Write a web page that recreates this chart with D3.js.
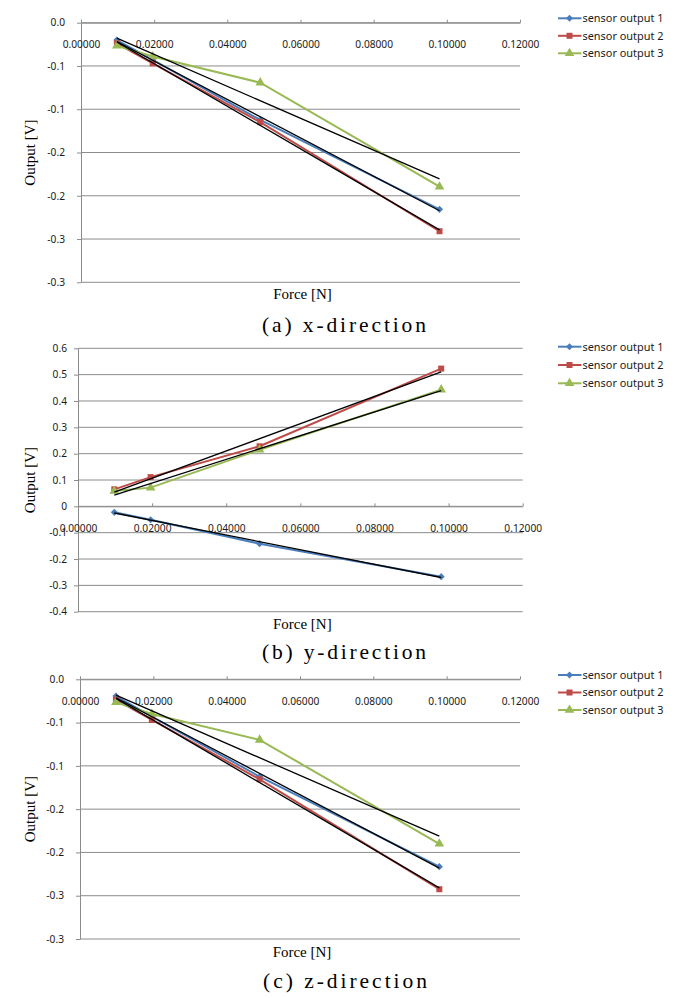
<!DOCTYPE html>
<html>
<head>
<meta charset="utf-8">
<script src="https://cdn.jsdelivr.net/npm/d3@7"></script>
<style>
  html, body { margin: 0; padding: 0; background: #fff; }
  svg { display: block; }
</style>
</head>
<body>
<svg id="chart" width="684" height="998"></svg>
<script>
// ---------------- DATA ----------------
const forceN = [0.0098, 0.0196, 0.049, 0.098];
const seriesNames = ["sensor output 1", "sensor output 2", "sensor output 3"];

// (a) x-direction
const xDirOut1 = [-0.020, -0.043, -0.1124, -0.2157];
const xDirOut2 = [-0.0238, -0.047, -0.115, -0.241];
const xDirOut3 = [-0.0266, -0.039, -0.0693, -0.1895];

// (b) y-direction
const yDirOut1 = [-0.0228, -0.0506, -0.1417, -0.267];
const yDirOut2 = [0.0646, 0.111, 0.228, 0.523];
const yDirOut3 = [0.058, 0.071, 0.215, 0.443];

// (c) z-direction
const zDirOut1 = [-0.0193, -0.043, -0.1125, -0.2164];
const zDirOut2 = [-0.0235, -0.047, -0.1155, -0.2425];
const zDirOut3 = [-0.0265, -0.040, -0.070, -0.190];

const xTickValues = [0, 0.02, 0.04, 0.06, 0.08, 0.10, 0.12];
const xTickLabels = ["0.00000", "0.02000", "0.04000", "0.06000", "0.08000", "0.10000", "0.12000"];

const negTickValues = [0, -0.05, -0.10, -0.15, -0.20, -0.25, -0.30];
const negTickLabels = ["0.0", "-0.1", "-0.1", "-0.2", "-0.2", "-0.3", "-0.3"];

const yDirTickValues = [0.6, 0.5, 0.4, 0.3, 0.2, 0.1, 0, -0.1, -0.2, -0.3, -0.4];
const yDirTickLabels = ["0.6", "0.5", "0.4", "0.3", "0.2", "0.1", "0", "-0.1", "-0.2", "-0.3", "-0.4"];

const captions = ["(a) x-direction", "(b) y-direction", "(c) z-direction"];
const xTitle = "Force [N]";
const yTitle = "Output [V]";

// ---------------- STYLE / LAYOUT ----------------
const colors = ["#4a7ebb", "#be4b48", "#98b954"];
const markerTypes = [d3.symbolDiamond2, d3.symbolSquare, d3.symbolTriangle];
const markerSizes = [32, 36, 40];
const gridColor = "#8c8c8c";

const panels = [
  { series: [xDirOut1, xDirOut2, xDirOut3], yTicks: negTickValues, yLabels: negTickLabels,
    left: 81, right: 520, top: 22.7, bottom: 282.3, yPad: 12,
    legendY: 18.3, legendStep: 17.5, forceY: 294, captionX: 344, captionY: 324 },
  { series: [yDirOut1, yDirOut2, yDirOut3], yTicks: yDirTickValues, yLabels: yDirTickLabels,
    left: 78, right: 522.7, top: 348.3, bottom: 611.7, yPad: 7,
    legendY: 346.7, legendStep: 18.3, forceY: 623.3, captionX: 344, captionY: 651.5 },
  { series: [zDirOut1, zDirOut2, zDirOut3], yTicks: negTickValues, yLabels: negTickLabels,
    left: 80, right: 520, top: 679.3, bottom: 939, yPad: 12,
    legendY: 675, legendStep: 17.5, forceY: 951.7, captionX: 345, captionY: 980 }
];

const svg = d3.select("#chart");
svg.append("rect").attr("width", 684).attr("height", 998).attr("fill", "#fff");

function linReg(xs, ys) {
  const mx = d3.mean(xs), my = d3.mean(ys);
  let sxy = 0, sxx = 0;
  xs.forEach((x, i) => { sxy += (x - mx) * (ys[i] - my); sxx += (x - mx) * (x - mx); });
  const slope = sxy / sxx;
  return { slope, intercept: my - slope * mx };
}

panels.forEach((p, pi) => {
  const g = svg.append("g");
  const x = d3.scaleLinear().domain([0, 0.12]).range([p.left, p.right]);
  const y = d3.scaleLinear().domain(d3.extent(p.yTicks)).range([p.bottom, p.top]);

  // gridlines
  g.append("g").selectAll("line").data(p.yTicks).join("line")
    .attr("x1", p.left).attr("x2", p.right)
    .attr("y1", d => y(d)).attr("y2", d => y(d))
    .attr("stroke", gridColor).attr("stroke-width", 1);

  // vertical axis
  const yAxis = d3.axisLeft(y).tickValues(p.yTicks)
    .tickFormat((d, i) => p.yLabels[i]).tickSize(4).tickPadding(p.yPad).tickSizeOuter(0);
  const ya = g.append("g").attr("transform", `translate(${p.left},0)`).call(yAxis);
  ya.select(".domain").attr("stroke", gridColor);
  ya.selectAll(".tick line").attr("stroke", gridColor);
  ya.selectAll("text").attr("font-family", "'Noto Sans', sans-serif").attr("font-size", 10.2)
    .attr("fill", "#1a1a1a");

  // horizontal axis at y = 0
  const xAxis = d3.axisBottom(x).tickValues(xTickValues)
    .tickFormat((d, i) => xTickLabels[i]).tickSizeInner(-3).tickSizeOuter(0).tickPadding(18);
  const xa = g.append("g").attr("transform", `translate(0,${y(0)})`).call(xAxis);
  xa.select(".domain").attr("stroke", gridColor);
  xa.selectAll(".tick line").attr("stroke", gridColor);
  xa.selectAll("text").attr("font-family", "'Noto Sans', sans-serif").attr("font-size", 10.2)
    .attr("fill", "#1a1a1a");

  // series
  const line = d3.line().x((d, i) => x(forceN[i])).y(d => y(d));
  p.series.forEach((vals, si) => {
    g.append("path").datum(vals).attr("d", line)
      .attr("fill", "none").attr("stroke", colors[si]).attr("stroke-width", 2);
    g.append("g").selectAll("path").data(vals).join("path")
      .attr("d", d3.symbol().type(markerTypes[si]).size(markerSizes[si]))
      .attr("transform", (d, i) => `translate(${x(forceN[i])},${y(d)})`)
      .attr("fill", colors[si]);
  });

  // linear trendlines
  p.series.forEach(vals => {
    const r = linReg(forceN, vals);
    const x0 = forceN[0], x1 = forceN[forceN.length - 1];
    g.append("line")
      .attr("x1", x(x0)).attr("y1", y(r.intercept + r.slope * x0))
      .attr("x2", x(x1)).attr("y2", y(r.intercept + r.slope * x1))
      .attr("stroke", "#000").attr("stroke-width", 1.3);
  });

  // legend
  const lg = g.append("g");
  seriesNames.forEach((name, si) => {
    const ly = p.legendY + si * p.legendStep;
    lg.append("line").attr("x1", 558).attr("x2", 581.5).attr("y1", ly).attr("y2", ly)
      .attr("stroke", colors[si]).attr("stroke-width", 2);
    lg.append("path").attr("d", d3.symbol().type(markerTypes[si]).size(markerSizes[si]))
      .attr("transform", `translate(569.5,${ly})`).attr("fill", colors[si]);
    lg.append("text").attr("x", 582.5).attr("y", ly).attr("dy", "0.35em")
      .attr("font-family", "'Noto Sans', sans-serif").attr("font-size", 10.9)
      .attr("fill", "#1a1a1a").text(name);
  });

  // axis titles
  g.append("text")
    .attr("transform", `translate(30,${(p.top + p.bottom) / 2}) rotate(-90)`)
    .attr("text-anchor", "middle").attr("dy", "0.35em")
    .attr("font-family", "'Liberation Serif', serif").attr("font-size", 15)
    .attr("fill", "#000").text(yTitle);
  g.append("text")
    .attr("x", (p.left + p.right) / 2 + 2).attr("y", p.forceY).attr("dy", "0.35em")
    .attr("text-anchor", "middle")
    .attr("font-family", "'Liberation Serif', serif").attr("font-size", 15)
    .attr("fill", "#000").text(xTitle);

  // caption
  g.append("text")
    .attr("x", p.captionX - 82).attr("y", p.captionY).attr("dy", "0.35em")
    .attr("textLength", 164).attr("lengthAdjust", "spacing")
    .attr("font-family", "'Liberation Serif', serif").attr("font-size", 21.5)
    .attr("fill", "#000").text(captions[pi]);
});
</script>
</body>
</html>
